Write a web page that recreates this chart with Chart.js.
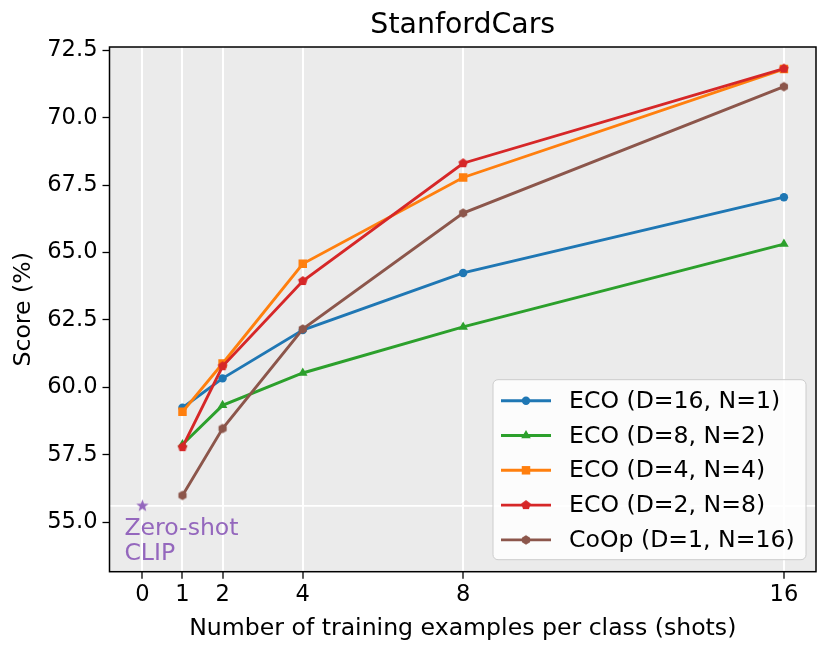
<!DOCTYPE html>
<html>
<head>
<meta charset="utf-8">
<script src="https://cdn.jsdelivr.net/npm/chart.js@4.4.1/dist/chart.umd.min.js"></script>
<style>
  html, body { margin: 0; padding: 0; background: #fff; }
  #wrap { width: 830px; height: 654px; }
</style>
</head>
<body>
<div id="wrap"><canvas id="myChart" width="830" height="654"></canvas></div>
<script>
// x values (shots) and scores
const shots = [1, 2, 4, 8, 16];
const xTickValues = [0, 1, 2, 4, 8, 16];
const yTickValues = [55, 57.5, 60, 62.5, 65, 67.5, 70, 72.5];

const eco16 = [59.24, 60.33, 62.12, 64.24, 67.05];
const eco8 = [57.88, 59.33, 60.53, 62.24, 65.31];
const eco4 = [59.09, 60.88, 64.58, 67.78, 71.80];
const eco2 = [57.78, 60.78, 63.94, 68.31, 71.82];
const coop = [55.99, 58.47, 62.16, 66.46, 71.15];
const zeroShot = 55.6;

const FONT = "'DejaVu Sans', sans-serif";

// little canvas markers for the shapes chart.js doesn't have
function polyMarker(sides, r, color, star) {
    const c = document.createElement('canvas');
    const s = Math.ceil(r * 2 + 2);
    c.width = s; c.height = s;
    const g = c.getContext('2d');
    g.fillStyle = color;
    g.beginPath();
    const n = star ? sides * 2 : sides;
    for (let i = 0; i < n; i++) {
        const a = -Math.PI / 2 + i * 2 * Math.PI / n;
        const rr = star && i % 2 ? r * 0.42 : r;
        const px = s / 2 + rr * Math.cos(a), py = s / 2 + rr * Math.sin(a);
        if (i === 0) g.moveTo(px, py); else g.lineTo(px, py);
    }
    g.closePath();
    g.fill();
    return c;
}
const pentagon = polyMarker(5, 5, '#d62728');
const hexagon = polyMarker(6, 4.7, '#8c564b');
const star = polyMarker(5, 6.5, '#9467bd', true);

function series(label, data, color, style, radius, order) {
    return {
        label: label,
        data: shots.map((x, i) => ({ x: x, y: data[i] })),
        borderColor: color,
        backgroundColor: color,
        borderWidth: 2.9,
        pointStyle: style,
        pointRadius: radius,
        pointHoverRadius: radius,
        pointBorderWidth: 0,
        order: order
    };
}

const datasets = [
    series('ECO (D=16, N=1)', eco16, '#1f77b4', 'circle', 4.2, 5),
    series('ECO (D=8, N=2)', eco8, '#2ca02c', 'triangle', 5.5, 4),
    series('ECO (D=4, N=4)', eco4, '#ff7f0e', 'rect', 6, 3),
    series('ECO (D=2, N=8)', eco2, '#d62728', pentagon, 5, 2),
    series('CoOp (D=1, N=16)', coop, '#8c564b', hexagon, 4.7, 1),
    {
        label: 'zero-shot line',
        data: [{ x: -0.82, y: zeroShot }, { x: 16.8, y: zeroShot }],
        borderColor: '#ffffff',
        borderWidth: 1.8,
        pointRadius: 0,
        order: 10
    },
    {
        label: 'Zero-shot CLIP',
        data: [{ x: 0, y: zeroShot }],
        showLine: false,
        pointStyle: star,
        pointRadius: 6.5,
        backgroundColor: '#9467bd',
        borderColor: '#9467bd',
        order: 0
    }
];

const framePlugin = {
    id: 'frame',
    beforeDraw(chart) {
        const a = chart.chartArea, ctx = chart.ctx;
        ctx.save();
        ctx.fillStyle = '#ebebeb';
        ctx.fillRect(a.left, a.top, a.right - a.left, a.bottom - a.top);
        ctx.restore();
    },
    afterDraw(chart) {
        const a = chart.chartArea, ctx = chart.ctx;
        const xs = chart.scales.x, ys = chart.scales.y;
        ctx.save();
        // title over the plot area
        ctx.fillStyle = '#000';
        ctx.font = '28.4px ' + FONT;
        ctx.textAlign = 'center';
        ctx.textBaseline = 'middle';
        ctx.fillText('StanfordCars', (a.left + a.right) / 2, 26);

        // zero-shot note
        ctx.fillStyle = '#9467bd';
        ctx.font = '23.6px ' + FONT;
        ctx.textAlign = 'left';
        const tx = xs.getPixelForValue(0) - 18;
        const ty = ys.getPixelForValue(zeroShot);
        ctx.fillText('Zero-shot', tx, ty + 23);
        ctx.fillText('CLIP', tx, ty + 48);

        // legend box
        const bw = 313, bh = 180;
        const bx = a.right - 10 - bw, by = a.bottom - 12 - bh;
        ctx.fillStyle = 'rgba(255,255,255,0.85)';
        ctx.strokeStyle = '#cccccc';
        ctx.lineWidth = 1;
        ctx.beginPath();
        ctx.roundRect(bx, by, bw, bh, 5);
        ctx.fill();
        ctx.stroke();
        ctx.font = '23.6px ' + FONT;
        ctx.textBaseline = 'middle';
        for (let i = 0; i < 5; i++) {
            const ds = chart.data.datasets[i];
            const ly = by + 21 + i * 34.8;
            ctx.strokeStyle = ds.borderColor;
            ctx.lineWidth = ds.borderWidth;
            ctx.beginPath();
            ctx.moveTo(bx + 8, ly);
            ctx.lineTo(bx + 58, ly);
            ctx.stroke();
            ctx.fillStyle = ds.backgroundColor;
            Chart.helpers.drawPoint(ctx, {
                pointStyle: ds.pointStyle, radius: ds.pointRadius, rotation: 0, borderWidth: 0
            }, bx + 33, ly);
            ctx.fillStyle = '#000';
            ctx.fillText(ds.label, bx + 76, ly + 1);
        }

        // axes frame
        ctx.strokeStyle = '#000';
        ctx.lineWidth = 1.5;
        ctx.strokeRect(a.left, a.top, a.right - a.left, a.bottom - a.top);
        ctx.restore();
    }
};

const ctx = document.getElementById('myChart').getContext('2d');
new Chart(ctx, {
    type: 'line',
    data: { datasets: datasets },
    plugins: [framePlugin],
    options: {
        responsive: false,
        animation: false,
        events: [],
        layout: { padding: { left: 0, right: 14, top: 47, bottom: 0 } },
        plugins: {
            legend: { display: false },
            tooltip: { enabled: false },
            title: { display: false }
        },
        scales: {
            x: {
                type: 'linear',
                min: -0.82,
                max: 16.8,
                afterBuildTicks: s => { s.ticks = xTickValues.map(v => ({ value: v })); },
                afterFit: s => { s.height = 82.3; },
                border: { display: false },
                grid: {
                    color: '#ffffff',
                    lineWidth: 2,
                    tickColor: '#000',
                    tickWidth: 1.3,
                    tickLength: 7
                },
                ticks: {
                    color: '#000',
                    font: { family: FONT, size: 22.6 },
                    padding: 3,
                    maxRotation: 0,
                    callback: v => String(v)
                },
                title: {
                    display: true,
                    text: 'Number of training examples per class (shots)',
                    color: '#000',
                    font: { family: FONT, size: 23.6 },
                    padding: { top: 0, bottom: 11 }
                }
            },
            y: {
                type: 'linear',
                min: 53.16,
                max: 72.62,
                afterBuildTicks: s => { s.ticks = yTickValues.map(v => ({ value: v })); },
                afterFit: s => { s.width = 109.5; },
                border: { display: false },
                grid: {
                    drawOnChartArea: false,
                    tickColor: '#000',
                    tickWidth: 1.3,
                    tickLength: 7
                },
                ticks: {
                    color: '#000',
                    font: { family: FONT, size: 22.6 },
                    padding: 5,
                    callback: v => Number(v).toFixed(1)
                },
                title: {
                    display: true,
                    text: 'Score (%)',
                    color: '#000',
                    font: { family: FONT, size: 23.6 },
                    padding: { top: 10, bottom: 0 }
                }
            }
        }
    }
});
</script>
</body>
</html>
